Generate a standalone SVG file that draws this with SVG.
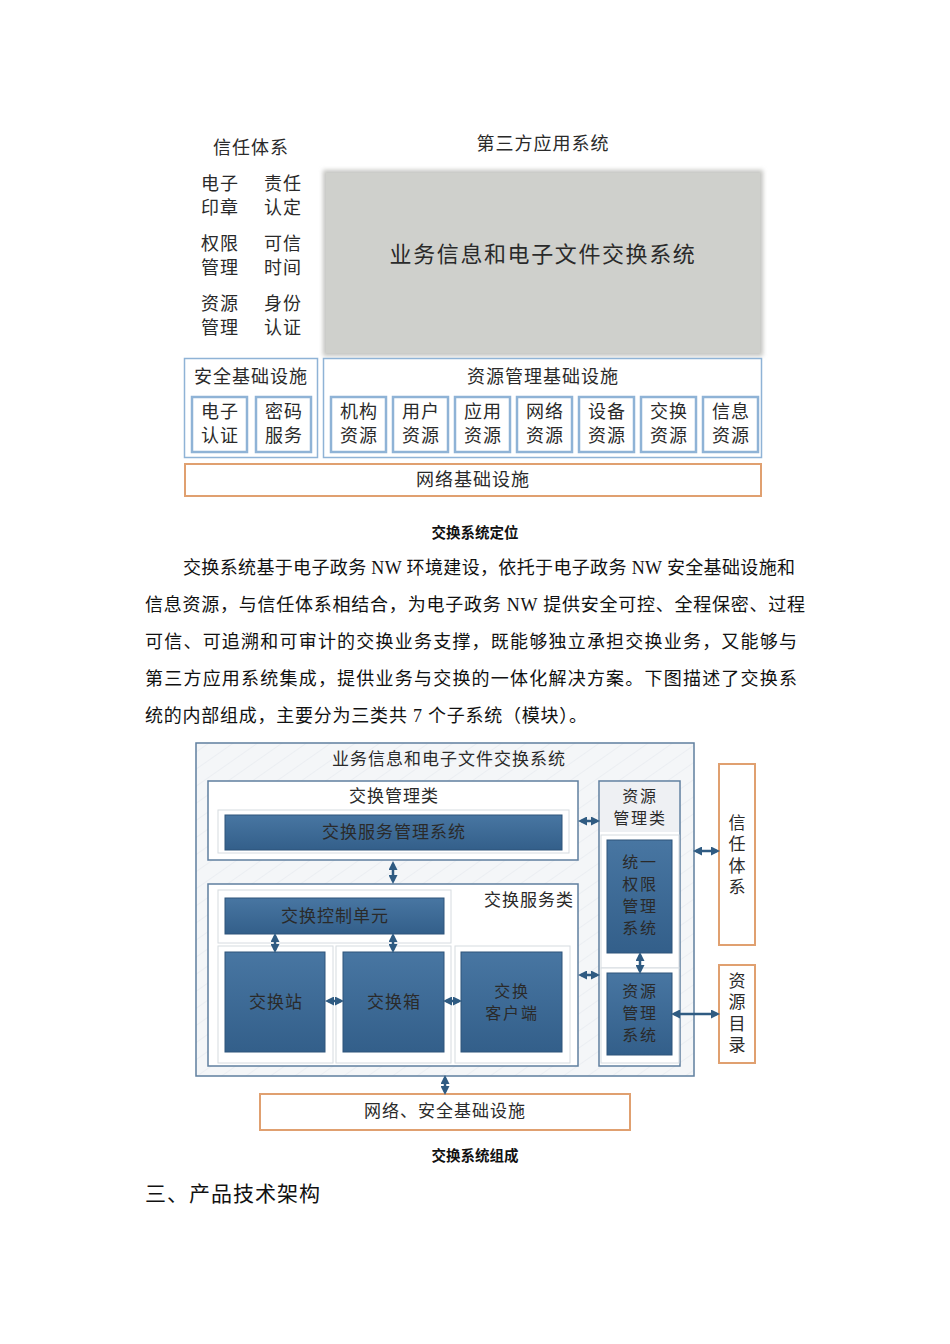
<svg xmlns="http://www.w3.org/2000/svg" width="950" height="1344" viewBox="0 0 950 1344">
<defs>
<style>
text{font-family:"Noto Sans CJK SC","Liberation Sans",sans-serif;fill:#2a2a2a}
.t18{font-size:18px;letter-spacing:1px}
.t17{font-size:17px;letter-spacing:1px}
.t16{font-size:16px;letter-spacing:1.8px}
.mid{text-anchor:middle}
.vert{font-size:17px;writing-mode:vertical-rl;letter-spacing:4.5px}
.para{font-family:"Liberation Serif","Noto Sans CJK SC",serif;font-size:18px;fill:#111}
.cap{font-size:14.5px;font-weight:bold;fill:#111;text-anchor:middle}
.lb{fill:#fff;stroke:#8fb3d6;stroke-width:1.5}
.lbi{fill:#fff;stroke:#8fb3d6;stroke-width:2.5}
.org{fill:#fff;stroke:#e0a070;stroke-width:2}
.cls{fill:#fff;stroke:#5f7f9f;stroke-width:1.5}
.pan{fill:#fff;stroke:#d6dbe0;stroke-width:1}
.dk{fill:url(#dkg);stroke:#2e557b;stroke-width:1}
.arr{stroke:#2f5b82;stroke-width:2.5;fill:none;marker-start:url(#ah);marker-end:url(#ah)}
</style>
<marker id="ah" markerWidth="9" markerHeight="9" refX="6" refY="4.5" orient="auto-start-reverse" markerUnits="userSpaceOnUse">
<path d="M0,0 L9,4.5 L0,9 Z" fill="#2f5b82"/>
</marker>
<linearGradient id="dkg" x1="0" y1="0" x2="0" y2="1">
<stop offset="0" stop-color="#4876a2"/>
<stop offset="1" stop-color="#335f8a"/>
</linearGradient>
<pattern id="hatch" width="14" height="14" patternUnits="userSpaceOnUse" patternTransform="rotate(-35)">
<rect width="14" height="14" fill="#f4f6f8"/>
<line x1="0" y1="0" x2="14" y2="0" stroke="#e3e7ec" stroke-width="1"/>
</pattern>
<filter id="soft" x="-5%" y="-5%" width="110%" height="110%">
<feGaussianBlur stdDeviation="2"/>
</filter>
</defs>

<!-- Top diagram -->
<g id="trust-title"><text class="t18 mid" x="251" y="154">信任体系</text></g>
<g id="third-title"><text class="t18 mid" x="543" y="150">第三方应用系统</text></g>
<g id="trust-items">
<text class="t18" x="201" y="190">电子<tspan x="201" dy="24">印章</tspan></text>
<text class="t18" x="264" y="190">责任<tspan x="264" dy="24">认定</tspan></text>
<text class="t18" x="201" y="250">权限<tspan x="201" dy="24">管理</tspan></text>
<text class="t18" x="264" y="250">可信<tspan x="264" dy="24">时间</tspan></text>
<text class="t18" x="201" y="310">资源<tspan x="201" dy="24">管理</tspan></text>
<text class="t18" x="264" y="310">身份<tspan x="264" dy="24">认证</tspan></text>
</g>
<g id="biz-system">
<rect x="323" y="170" width="440" height="186" fill="#c4c5c1" filter="url(#soft)"/>
<rect x="326" y="173" width="434" height="180" fill="#cfd0cc"/>
<text class="mid" x="543" y="262" style="font-size:22px;letter-spacing:1.6px">业务信息和电子文件交换系统</text>
</g>
<g id="security-infra">
<rect class="lb" x="184.5" y="358.5" width="133" height="99"/>
<text class="t18 mid" x="251" y="383">安全基础设施</text>
<rect class="lbi" x="192" y="397" width="55" height="55"/>
<text class="t18 mid" x="220" y="418">电子<tspan x="220" dy="24">认证</tspan></text>
<rect class="lbi" x="256" y="397" width="55" height="55"/>
<text class="t18 mid" x="284" y="418">密码<tspan x="284" dy="24">服务</tspan></text>
</g>
<g id="resource-infra">
<rect class="lb" x="323.5" y="358.5" width="438" height="99"/>
<text class="t18 mid" x="543" y="383">资源管理基础设施</text>
<rect class="lbi" x="331" y="397" width="55" height="55"/><text class="t18 mid" x="359" y="418">机构<tspan x="359" dy="24">资源</tspan></text>
<rect class="lbi" x="393" y="397" width="55" height="55"/><text class="t18 mid" x="421" y="418">用户<tspan x="421" dy="24">资源</tspan></text>
<rect class="lbi" x="455" y="397" width="55" height="55"/><text class="t18 mid" x="483" y="418">应用<tspan x="483" dy="24">资源</tspan></text>
<rect class="lbi" x="517" y="397" width="55" height="55"/><text class="t18 mid" x="545" y="418">网络<tspan x="545" dy="24">资源</tspan></text>
<rect class="lbi" x="579" y="397" width="55" height="55"/><text class="t18 mid" x="607" y="418">设备<tspan x="607" dy="24">资源</tspan></text>
<rect class="lbi" x="641" y="397" width="55" height="55"/><text class="t18 mid" x="669" y="418">交换<tspan x="669" dy="24">资源</tspan></text>
<rect class="lbi" x="703" y="397" width="55" height="55"/><text class="t18 mid" x="731" y="418">信息<tspan x="731" dy="24">资源</tspan></text>
</g>
<g id="network-infra">
<rect class="org" x="185" y="464" width="576" height="32"/>
<text class="t18 mid" x="473" y="486">网络基础设施</text>
</g>
<text class="cap" x="475" y="538">交换系统定位</text>

<!-- Paragraph -->
<g id="paragraph">
<text class="para" x="183" y="574" textLength="612" lengthAdjust="spacing">交换系统基于电子政务 NW 环境建设，依托于电子政务 NW 安全基础设施和</text>
<text class="para" x="145" y="611" textLength="660" lengthAdjust="spacing">信息资源，与信任体系相结合，为电子政务 NW 提供安全可控、全程保密、过程</text>
<text class="para" x="145" y="648" textLength="652" lengthAdjust="spacing">可信、可追溯和可审计的交换业务支撑，既能够独立承担交换业务，又能够与</text>
<text class="para" x="145" y="685" textLength="652" lengthAdjust="spacing">第三方应用系统集成，提供业务与交换的一体化解决方案。下图描述了交换系</text>
<text class="para" x="145" y="722" textLength="442" lengthAdjust="spacing">统的内部组成，主要分为三类共 7 个子系统（模块）。</text>
</g>

<!-- Second diagram -->
<g id="outer-system">
<rect x="196" y="743" width="498" height="333" fill="url(#hatch)" stroke="#5f7f9f" stroke-width="1.5"/>
<text class="t17 mid" x="449" y="765">业务信息和电子文件交换系统</text>
</g>
<g id="mgmt-class">
<rect class="cls" x="208" y="781" width="370" height="79"/>
<text class="t17 mid" x="394" y="802">交换管理类</text>
<rect class="pan" x="218" y="810" width="351" height="43"/>
<rect class="dk" x="225" y="815" width="337" height="35"/>
<text class="t17 mid" x="394" y="838">交换服务管理系统</text>
</g>
<g id="service-class">
<rect class="cls" x="208" y="884" width="370" height="182"/>
<text class="t17 mid" x="529" y="906">交换服务类</text>
<rect class="pan" x="218" y="890" width="233" height="53"/>
<rect class="dk" x="225" y="898" width="219" height="36"/>
<text class="t17 mid" x="335" y="922">交换控制单元</text>
<rect class="pan" x="218" y="946" width="115" height="117"/>
<rect class="pan" x="336" y="946" width="115" height="117"/>
<rect class="pan" x="455" y="946" width="115" height="117"/>
</g>
<g id="station"><rect class="dk" x="225" y="952" width="100" height="100"/><text class="t17 mid" x="276" y="1008">交换站</text></g>
<g id="box"><rect class="dk" x="343" y="952" width="101" height="100"/><text class="t17 mid" x="394" y="1008">交换箱</text></g>
<g id="client"><rect class="dk" x="461" y="952" width="101" height="100"/><text class="t16 mid" x="512" y="997">交换<tspan x="512" dy="22">客户端</tspan></text></g>
<g id="res-class">
<rect x="599" y="781" width="81" height="285" fill="#fff" stroke="#5f7f9f" stroke-width="1.5"/>
<rect x="600" y="782" width="79" height="50" fill="#eef0f3"/>
<text class="t16 mid" x="640" y="802">资源<tspan x="640" dy="22">管理类</tspan></text>
<rect class="pan" x="601" y="835" width="78" height="133"/>
<rect class="pan" x="601" y="968" width="78" height="95"/>
</g>
<g id="perm-system"><rect class="dk" x="607" y="840" width="65" height="113"/>
<text class="t16 mid" x="640" y="868">统一<tspan x="640" dy="22.3">权限</tspan><tspan x="640" dy="22">管理</tspan><tspan x="640" dy="22">系统</tspan></text></g>
<g id="res-system"><rect class="dk" x="607" y="973" width="65" height="82"/>
<text class="t16 mid" x="640" y="997">资源<tspan x="640" dy="22">管理</tspan><tspan x="640" dy="22">系统</tspan></text></g>
<g id="trust-system"><rect class="org" x="719" y="764" width="36" height="181"/>
<text class="vert" x="737" y="814">信任体系</text></g>
<g id="res-catalog"><rect class="org" x="719" y="965" width="36" height="98"/>
<text class="vert" x="737" y="972">资源目录</text></g>
<g id="net-sec"><rect class="org" x="260" y="1094" width="370" height="36"/>
<text class="t17 mid" x="445" y="1117">网络、安全基础设施</text></g>

<g id="connectors">
<line class="arr" x1="393" y1="864" x2="393" y2="881"/>
<line class="arr" x1="275" y1="936" x2="275" y2="950"/>
<line class="arr" x1="393" y1="936" x2="393" y2="950"/>
<line class="arr" x1="328" y1="1001" x2="341" y2="1001"/>
<line class="arr" x1="446" y1="1001" x2="459" y2="1001"/>
<line class="arr" x1="581" y1="821" x2="597" y2="821"/>
<line class="arr" x1="581" y1="975" x2="597" y2="975"/>
<line class="arr" x1="640" y1="955" x2="640" y2="971"/>
<line class="arr" x1="696" y1="851" x2="717" y2="851"/>
<line class="arr" x1="674" y1="1014" x2="717" y2="1014"/>
<line class="arr" x1="445" y1="1078" x2="445" y2="1092"/>
</g>

<text class="cap" x="475" y="1161">交换系统组成</text>
<text x="145" y="1201" style="font-size:21px;letter-spacing:1px;fill:#111">三、产品技术架构</text>
</svg>
